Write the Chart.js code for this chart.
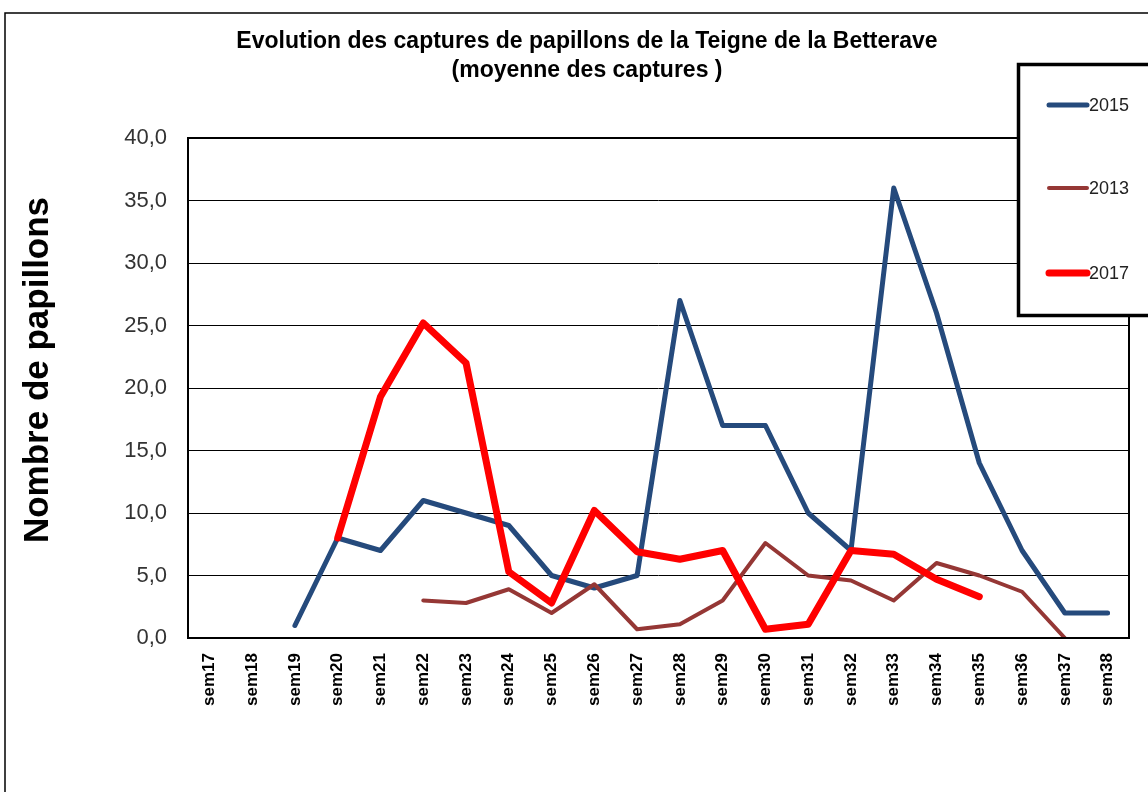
<!DOCTYPE html>
<html>
<head>
<meta charset="utf-8">
<script src="https://cdn.jsdelivr.net/npm/chart.js@4"></script>
<style>
  html, body { margin: 0; padding: 0; background: #fff; }
  #wrap { width: 1148px; height: 792px; position: relative; }
</style>
</head>
<body>
<div id="wrap"><canvas id="chart" width="1148" height="792"></canvas></div>
<script>
// weeks on the x axis
var weeks = ['sem17','sem18','sem19','sem20','sem21','sem22','sem23','sem24','sem25','sem26','sem27',
             'sem28','sem29','sem30','sem31','sem32','sem33','sem34','sem35','sem36','sem37','sem38'];

// mean captures per week (null = no reading)
var values2015 = [null, null, 1, 8, 7, 11, 10, 9, 5, 4, 5, 27, 17, 17, 10, 7, 36, 26, 14, 7, 2, 2];
var values2013 = [null, null, null, null, null, 3, 2.8, 3.9, 2, 4.3, 0.7, 1.1, 3, 7.6, 5, 4.6, 3, 6, 5, 3.7, 0, null];
var values2017 = [null, null, null, 8, 19.3, 25.2, 22, 5.3, 2.8, 10.2, 6.9, 6.3, 7, 0.7, 1.1, 7, 6.7, 4.7, 3.3, null, null, null];

var yTicks = [0, 5, 10, 15, 20, 25, 30, 35, 40];

var legendItems = [
  { label: '2015', color: '#254A7C', width: 5 },
  { label: '2013', color: '#953735', width: 4 },
  { label: '2017', color: '#FF0000', width: 7 }
];

// frame, title, axis title and legend box drawn on top of the chart
var decor = {
  id: 'decor',
  afterDraw: function(chart) {
    var ctx = chart.ctx;
    var a = chart.chartArea;
    ctx.save();

    // outer frame (top + left)
    ctx.strokeStyle = '#000';
    ctx.lineWidth = 1.5;
    ctx.beginPath();
    ctx.moveTo(5, 792);
    ctx.lineTo(5, 13);
    ctx.lineTo(1148, 13);
    ctx.stroke();

    // plot border
    ctx.lineWidth = 2;
    ctx.strokeRect(a.left, a.top, a.right - a.left, a.bottom - a.top);

    // title
    ctx.fillStyle = '#000';
    ctx.font = 'bold 23px "Liberation Sans", Arial, sans-serif';
    ctx.textAlign = 'center';
    ctx.textBaseline = 'middle';
    ctx.fillText('Evolution des captures de papillons de la Teigne de la Betterave', 587, 42);
    ctx.fillText('(moyenne des captures )', 587, 71);

    // y axis title
    ctx.save();
    ctx.translate(38, 370);
    ctx.rotate(-Math.PI / 2);
    ctx.font = 'bold 35px "Liberation Sans", Arial, sans-serif';
    ctx.fillText('Nombre de papillons', 0, 0);
    ctx.restore();

    // legend box
    ctx.fillStyle = '#fff';
    ctx.fillRect(1018, 64, 140, 251);
    ctx.lineWidth = 3.5;
    ctx.strokeStyle = '#000';
    ctx.strokeRect(1018.5, 64.5, 140, 251);

    var rowsY = [105, 188, 273];
    ctx.lineCap = 'round';
    ctx.textAlign = 'left';
    ctx.font = '18px "Liberation Sans", Arial, sans-serif';
    legendItems.forEach(function(item, i) {
      ctx.strokeStyle = item.color;
      ctx.lineWidth = item.width;
      ctx.beginPath();
      ctx.moveTo(1049, rowsY[i]);
      ctx.lineTo(1087, rowsY[i]);
      ctx.stroke();
      ctx.fillStyle = '#222';
      ctx.fillText(item.label, 1089, rowsY[i] + 1);
    });

    ctx.restore();
  }
};

function lineSet(label, data, color, width, order) {
  return {
    label: label,
    data: data,
    borderColor: color,
    backgroundColor: color,
    borderWidth: width,
    pointRadius: 0,
    tension: 0,
    spanGaps: false,
    borderJoinStyle: 'round',
    borderCapStyle: 'round',
    order: order
  };
}

new Chart(document.getElementById('chart'), {
  type: 'line',
  data: {
    labels: weeks,
    datasets: [
      lineSet('2015', values2015, legendItems[0].color, legendItems[0].width, 2),
      lineSet('2013', values2013, legendItems[1].color, legendItems[1].width, 1),
      lineSet('2017', values2017, legendItems[2].color, legendItems[2].width, 0)
    ]
  },
  options: {
    responsive: false,
    animation: false,
    events: [],
    layout: { padding: { left: 0, top: 138, right: 19, bottom: 0 } },
    plugins: {
      legend: { display: false },
      title: { display: false },
      tooltip: { enabled: false }
    },
    scales: {
      x: {
        offset: true,
        grid: { display: false, drawTicks: false },
        border: { display: false },
        ticks: {
          minRotation: 90,
          maxRotation: 90,
          autoSkip: false,
          padding: 15,
          color: '#000',
          font: { family: '"Liberation Sans", Arial, sans-serif', size: 17, weight: 'bold' }
        },
        afterFit: function(scale) { scale.height = 154; }
      },
      y: {
        min: 0,
        max: 40,
        afterBuildTicks: function(scale) {
          scale.ticks = yTicks.map(function(v) { return { value: v }; });
        },
        grid: { color: '#000', lineWidth: 1, drawTicks: false },
        border: { display: false },
        ticks: {
          padding: 21,
          color: '#333',
          font: { family: '"Liberation Sans", Arial, sans-serif', size: 22 },
          callback: function(v) { return v.toFixed(1).replace('.', ','); }
        },
        afterFit: function(scale) { scale.width = 188; }
      }
    }
  },
  plugins: [decor]
});
</script>
</body>
</html>
